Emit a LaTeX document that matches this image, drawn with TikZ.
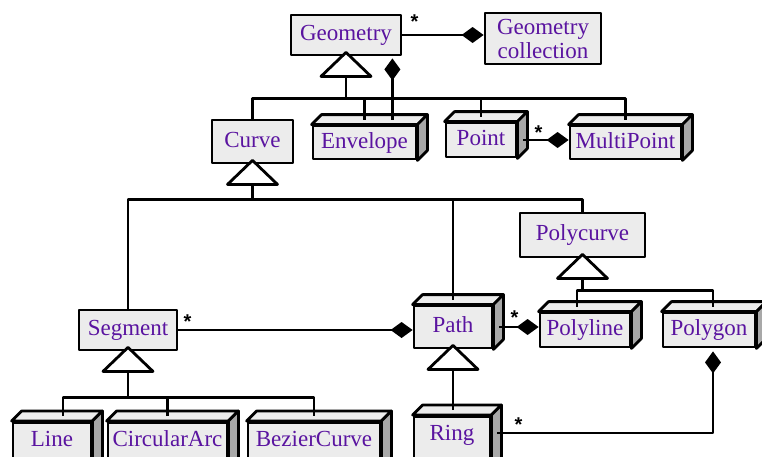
\documentclass[tikz,border=0pt]{standalone}
\usepackage{fontspec}
\setmainfont{Liberation Serif}
\setsansfont{Liberation Sans}
\usetikzlibrary{arrows.meta,calc}

\definecolor{classtext}{RGB}{90,20,160}
\definecolor{facegray}{RGB}{236,236,236}
\definecolor{sidegray}{RGB}{168,168,168}

\begin{document}
\begin{tikzpicture}
  [x=1pt,y=-1pt
  ,line width=2.8pt
  ,line join=round
  ,cls/.style={draw,fill=facegray,inner sep=0pt,text=classtext,font=\fontsize{23}{24}\selectfont}
  ,onerow/.style={cls,text height=16pt,text depth=5pt}
  ,lowrow/.style={cls,anchor=north,inner ysep=5pt,text height=19pt,text depth=30pt}
  ,comp/.style={-{Diamond[length=22pt,width=16pt]}}
  ,mult/.style={font=\sffamily\bfseries\fontsize{20}{20}\selectfont,inner sep=0pt}
  ]

  % Solid box on a concrete class
  %
  % #1 - node name
  \newcommand{\solidbox}[1]{
    \filldraw[fill=facegray] (#1.north west) -- ++(10,-10) -- ($(#1.north east)+(10,-10)$) -- (#1.north east) -- cycle;
    \filldraw[fill=sidegray] (#1.north east) -- ++(10,-10) -- ($(#1.south east)+(10,-10)$) -- (#1.south east) -- cycle;
    \coordinate (#1-top) at ($(#1.north)+(0,-5)$);
  }

  % Generalization triangle
  %
  % #1 - node name of the parent
  \newcommand{\gentri}[1]{
    \draw[fill=white] ($(#1.south)+(0,-4)$) -- ++(-25,24) -- ++(50,0) -- cycle;
    \coordinate (#1-base) at ($(#1.south)+(0,20)$);
  }

  \useasboundingbox (0,0) rectangle (762,456);
  \clip (0,0) rectangle (762,456);

  % abstract classes
  \node[onerow,minimum width=110pt,minimum height=40pt] (geometry) at (346,35) {Geometry};
  \node[cls,align=center,minimum width=116pt,minimum height=51pt] (geomcoll) at (543,38.5) {Geometry\\collection};
  \node[onerow,minimum width=81pt,minimum height=43pt] (curve) at (252.5,141.5) {Curve};
  \node[onerow,minimum width=98pt,minimum height=40pt] (segment) at (128,330) {Segment};
  \node[onerow,minimum width=125pt,minimum height=44pt] (polycurve) at (582.5,235) {Polycurve};

  % concrete classes
  \node[onerow,minimum width=103pt,minimum height=33pt] (envelope) at (364.5,142.5) {Envelope};
  \node[onerow,minimum width=70pt,minimum height=34pt] (point) at (481,140) {Point};
  \node[onerow,minimum width=111pt,minimum height=33pt] (multipoint) at (625.5,142.5) {MultiPoint};
  \node[onerow,minimum width=78pt,minimum height=42pt] (path) at (453,327) {Path};
  \node[onerow,minimum width=90pt,minimum height=34pt] (polyline) at (585,330) {Polyline};
  \node[onerow,minimum width=92pt,minimum height=34pt] (polygon) at (709,330) {Polygon};
  \node[lowrow,minimum width=78pt] (line) at (52,421) {Line};
  \node[lowrow,minimum width=119pt] (circulararc) at (167.5,421) {CircularArc};
  \node[lowrow,minimum width=132pt] (beziercurve) at (314,421) {BezierCurve};
  \node[lowrow,minimum width=76pt] (ring) at (452,415) {Ring};

  \solidbox{envelope}
  \solidbox{point}
  \solidbox{multipoint}
  \solidbox{path}
  \solidbox{polyline}
  \solidbox{polygon}
  \solidbox{line}
  \solidbox{circulararc}
  \solidbox{beziercurve}
  \solidbox{ring}

  \gentri{geometry}
  \gentri{curve}
  \gentri{segment}
  \gentri{polycurve}
  \gentri{path}

  % Geometry children
  \draw (geometry-base) -- ++(0,22) coordinate (geometry-bus);
  \draw (curve.north) |- (geometry-bus) -| (multipoint-top);
  \draw (envelope-top) -- (envelope-top |- geometry-bus);
  \draw (point-top) -- (point-top |- geometry-bus);

  % Curve children
  \draw (curve-base) -- ++(0,15) coordinate (curve-bus);
  \draw (segment.north) |- (curve-bus) -| (polycurve.north);
  \draw (path-top) -- (path-top |- curve-bus);

  % Segment children
  \draw (segment-base) -- ++(0,26) coordinate (segment-bus);
  \draw ($(line-top)+(11,0)$) |- (segment-bus) -| (beziercurve-top);
  \draw (circulararc-top) -- (circulararc-top |- segment-bus);

  % Polycurve children
  \draw (polycurve-base) -- ++(0,12) coordinate (polycurve-bus);
  \draw ($(polyline-top)+(-8,0)$) |- (polycurve-bus) -| ($(polygon-top)+(4,0)$);

  % Path child
  \draw (path-base) -- (path-base |- ring-top);

  % compositions
  \draw[comp] (geometry.east) -- (geometry.east -| geomcoll.west);
  \coordinate (envelope-comp) at ($(geometry.south east)+(-10,2)$);
  \draw[comp] (envelope-comp |- envelope-top) -- (envelope-comp);
  \draw[comp] ($(point.east)+(6,0)$) -- (point.east -| multipoint.west);
  \draw[comp] (segment.east) -- (segment.east -| path.west);
  \draw[comp] ($(path.east)+(6,0)$) -- (path.east -| polyline.west);
  \coordinate (ring-side) at ($(ring.north east)+(6,18)$);
  \draw[comp] (ring-side) -| ($(polygon.south)+(4,3)$);

  % multiplicities
  \node[mult] (geometry-mult) at ($(geometry.east)+(12,-13)$) {*};
  \node[mult] (point-mult) at ($(point.east)+(21,-7)$) {*};
  \node[mult] (segment-mult) at ($(segment.east)+(9,-8)$) {*};
  \node[mult] (path-mult) at ($(path.east)+(21,-9)$) {*};
  \node[mult] (ring-mult) at ($(ring.north east)+(27,10)$) {*};

\end{tikzpicture}
\end{document}
